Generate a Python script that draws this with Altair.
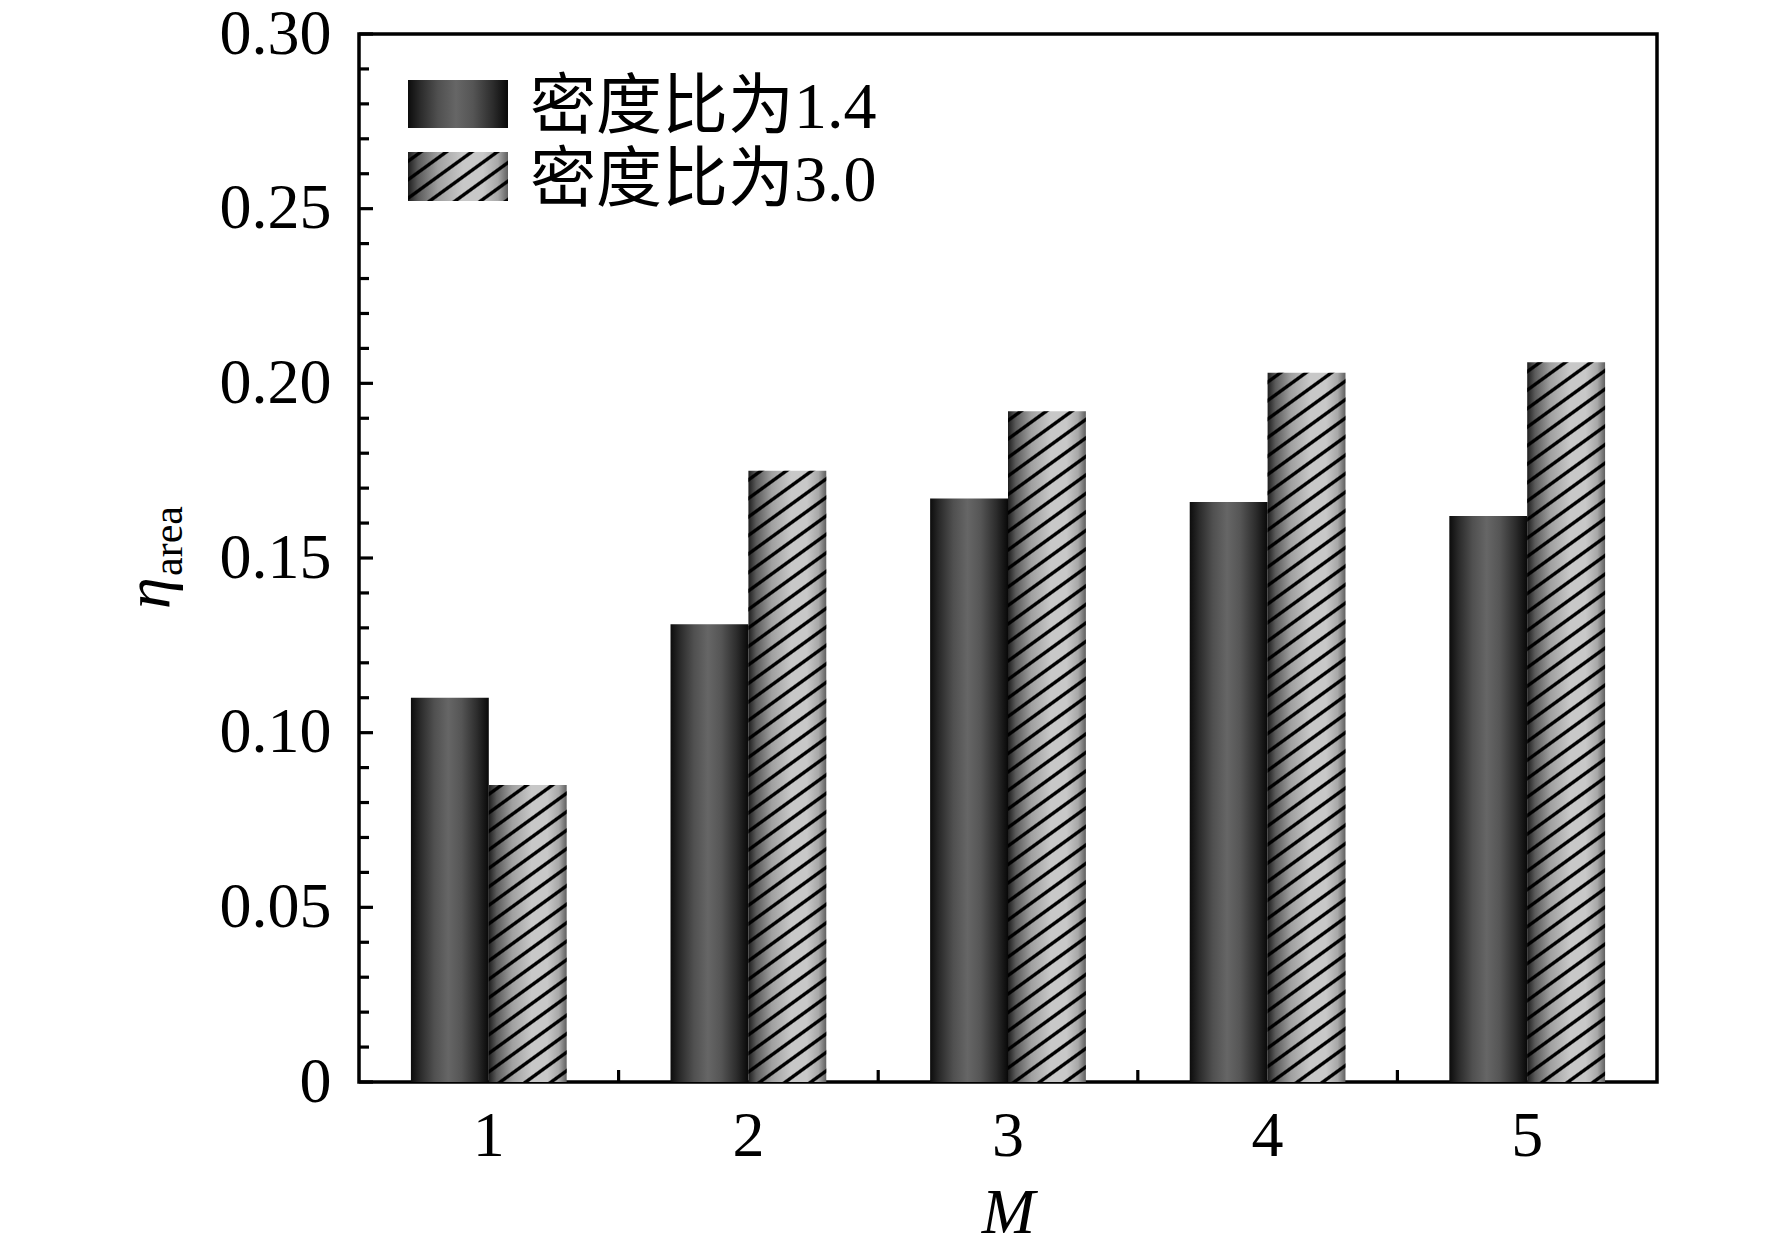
import math
import altair as alt
import pandas as pd

# ---------------- data ----------------
M = ["1", "2", "3", "4", "5"]
series = ["密度比为1.4", "密度比为3.0"]
ratio_14 = [0.110, 0.131, 0.167, 0.166, 0.162]
ratio_30 = [0.085, 0.175, 0.192, 0.203, 0.206]
y_major = [0, 0.05, 0.10, 0.15, 0.20, 0.25, 0.30]
y_minor = [0.01, 0.02, 0.03, 0.04, 0.06, 0.07, 0.08, 0.09, 0.11, 0.12, 0.13, 0.14,
           0.16, 0.17, 0.18, 0.19, 0.21, 0.22, 0.23, 0.24, 0.26, 0.27, 0.28, 0.29]
x_bounds = ["2", "3", "4", "5"]

# ---------------- layout / style ----------------
W, H = 1298, 1048
YMAX = 0.30
BAR_W = W / 5 * 0.3
SERIF = "Liberation Serif"
MIXED = "Liberation Serif, Noto Sans CJK SC"
TICK_W = 3.2

df = pd.DataFrame({
    "M": M + M,
    "series": [series[0]] * len(M) + [series[1]] * len(M),
    "value": ratio_14 + ratio_30,
})


def stops(pairs):
    return [alt.GradientStop(offset=o, color=c) for o, c in pairs]


DARK_GRAD = alt.Gradient(
    gradient="linear", x1=0, x2=1, y1=0, y2=0,
    stops=stops([(0, "#0c0c0c"), (0.12, "#2a2a2a"), (0.3, "#505050"), (0.48, "#666666"),
                 (0.65, "#555555"), (0.85, "#2c2c2c"), (1, "#080808")]),
)
HBG_GRAD = alt.Gradient(
    gradient="linear", x1=0, x2=1, y1=0, y2=0,
    stops=stops([(0, "#1e1e1e"), (0.1, "#5a5a5a"), (0.3, "#a0a0a0"), (0.55, "#c8c8c8"),
                 (0.75, "#c8c8c8"), (0.9, "#a8a8a8"), (1, "#606060")]),
)

THETA = math.radians(36)
PERIOD_V = 18.5
LW = 3.4


def hatch_gradient(w, h):
    st, ct = math.sin(THETA), math.cos(THETA)
    D = w * st + h * ct
    p = PERIOD_V * ct
    k = D / (w * h * (st ** 2 / h ** 2 + ct ** 2 / w ** 2))
    x2 = k * st / h
    y2 = k * ct / w
    clear = "rgba(0,0,0,0)"
    eps = 0.6
    pairs = [(0, clear)]
    s = p / 2
    while s - LW / 2 < D:
        a, b = s - LW / 2, s + LW / 2
        for off, col in [(a - eps, clear), (a + eps, "black"), (b - eps, "black"), (b + eps, clear)]:
            pairs.append((min(max(off / D, 0), 1), col))
        s += p
    return alt.Gradient(gradient="linear", x1=0, y1=0, x2=x2, y2=y2, stops=stops(pairs))


def x_enc(**kw):
    return alt.X(
        "M:N",
        scale=alt.Scale(domain=M, paddingInner=0, paddingOuter=0),
        axis=alt.Axis(title="M", labelAngle=0, ticks=False, domain=False, grid=False,
                      labelFont=SERIF, labelFontSize=64, labelColor="black", labelPadding=22,
                      titleFont=SERIF, titleFontSize=64, titleFontStyle="italic",
                      titleFontWeight="normal", titleColor="black", titlePadding=13),
        **kw,
    )


xo_enc = alt.XOffset("series:N", scale=alt.Scale(domain=series, paddingInner=0, paddingOuter=2 / 3))
y_enc = alt.Y(
    "value:Q",
    scale=alt.Scale(domain=[0, YMAX], nice=False, zero=True),
    axis=alt.Axis(values=y_major, title=None, ticks=False, domain=False, grid=False,
                  labelExpr="datum.value == 0 ? '0' : format(datum.value, '.2f')",
                  labelFont=SERIF, labelFontSize=64, labelColor="black", labelPadding=28),
)

base = alt.Chart(df).encode(x=x_enc(), xOffset=xo_enc, y=y_enc)

dark = base.transform_filter(alt.datum.series == series[0]).mark_bar(fill=DARK_GRAD)
hbg = base.transform_filter(alt.datum.series == series[1]).mark_bar(fill=HBG_GRAD)
overlays = [
    base.transform_filter((alt.datum.series == series[1]) & (alt.datum.M == m))
    .mark_bar(fill=hatch_gradient(BAR_W, v / YMAX * H))
    for m, v in zip(M, ratio_30)
]

ymin = alt.Chart(pd.DataFrame({"value": y_minor})).mark_rule(color="black", strokeWidth=TICK_W).encode(
    y=y_enc, x=alt.value(0), x2=alt.value(10))
ymaj = alt.Chart(pd.DataFrame({"value": y_major})).mark_rule(color="black", strokeWidth=TICK_W).encode(
    y=y_enc, x=alt.value(0), x2=alt.value(14))
xt = alt.Chart(pd.DataFrame({"M": x_bounds})).mark_rule(color="black", strokeWidth=TICK_W).encode(
    x=x_enc(bandPosition=0), y=alt.value(H), y2=alt.value(H - 12))

# y-axis title: eta with subscript "area"
eta = alt.Chart(pd.DataFrame({"t": ["η"]})).mark_text(
    font=SERIF, fontSize=64, fontStyle="italic", angle=270, align="center",
    baseline="alphabetic", color="black").encode(text="t:N", x=alt.value(-190), y=alt.value(559))
sub = alt.Chart(pd.DataFrame({"t": ["area"]})).mark_text(
    font=SERIF, fontSize=42, angle=270, align="center",
    baseline="alphabetic", color="black").encode(text="t:N", x=alt.value(-177), y=alt.value(507))

# legend
one = pd.DataFrame({"k": [0]})
leg_dark = alt.Chart(one).mark_rect(fill=DARK_GRAD).encode(
    x=alt.value(49), x2=alt.value(149), y=alt.value(46), y2=alt.value(94))
leg_hbg = alt.Chart(one).mark_rect(fill=HBG_GRAD).encode(
    x=alt.value(49), x2=alt.value(149), y=alt.value(118), y2=alt.value(167))
leg_hatch = alt.Chart(one).mark_rect(fill=hatch_gradient(100, 49)).encode(
    x=alt.value(49), x2=alt.value(149), y=alt.value(118), y2=alt.value(167))
leg_t1 = alt.Chart(pd.DataFrame({"t": [series[0]]})).mark_text(
    font=MIXED, fontSize=66, align="left", baseline="middle", color="black").encode(
    text="t:N", x=alt.value(171), y=alt.value(74))
leg_t2 = alt.Chart(pd.DataFrame({"t": [series[1]]})).mark_text(
    font=MIXED, fontSize=66, align="left", baseline="middle", color="black").encode(
    text="t:N", x=alt.value(171), y=alt.value(147))

chart = alt.layer(
    dark, hbg, *overlays, ymin, ymaj, xt, eta, sub,
    leg_dark, leg_hbg, leg_hatch, leg_t1, leg_t2,
).properties(
    width=W, height=H,
    autosize=alt.AutoSizeParams(type="none"),
    padding={"left": 351, "top": 26, "right": 100, "bottom": 167},
    background="white",
).configure_view(stroke="black", strokeWidth=3.5)

chart.save("out.html", embed_options={"renderer": "svg", "actions": False})
